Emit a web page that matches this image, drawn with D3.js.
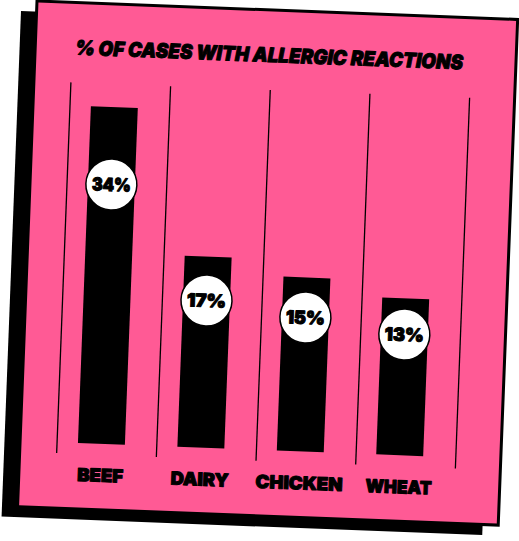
<!DOCTYPE html>
<html><head><meta charset="utf-8">
<script src="https://cdn.jsdelivr.net/npm/d3@7"></script>
<style>html,body{margin:0;padding:0;background:#fff;overflow:hidden}</style>
</head><body>
<svg id="c" width="519" height="541"></svg>
<script>
const categories = ["BEEF", "DAIRY", "CHICKEN", "WHEAT"];
const values = [34, 17, 15, 13];
const valueLabels = ["34%", "17%", "15%", "13%"];
const title = "% OF CASES WITH ALLERGIC REACTIONS";

const cardW = 481, cardH = 506;
const svg = d3.select("#c");
const g = svg.append("g").attr("transform", "translate(37,1) rotate(2.2)");

// shadow + card
g.append("rect").attr("x", -15.6).attr("y", 10.6).attr("width", cardW).attr("height", cardH).attr("fill", "#000");
g.append("rect").attr("width", cardW).attr("height", cardH).attr("fill", "#FF5A95")
  .attr("stroke", "#000").attr("stroke-width", 3);

const FONT = "Inter, 'Noto Sans', 'DejaVu Sans', sans-serif";

// title
g.append("text").attr("x", 40).attr("y", 52).text(title)
  .attr("font-family", FONT).attr("font-weight", 900).attr("font-style", "italic")
  .attr("font-size", 20).attr("fill", "#000")
  .attr("stroke", "#000").attr("stroke-width", 1).attr("stroke-linejoin", "round")
  .attr("textLength", 388).attr("lengthAdjust", "spacingAndGlyphs");

const x = d3.scaleBand().domain(categories).range([37, 436]);
const xBar = d3.scaleBand().domain(categories).range([37, 436])
  .paddingInner(0.528).paddingOuter(0.269).align(0.39);
const y = d3.scaleLinear().domain([-5.3, 34]).range([440, 103]);

// gridlines at band boundaries
const bounds = categories.map(c => x(c)).concat([x.range()[1]]);
g.selectAll("line.grid").data(bounds).join("line").attr("class", "grid")
  .attr("x1", d => d).attr("x2", d => d).attr("y1", 80).attr("y2", 451)
  .attr("stroke", "#000").attr("stroke-width", 1.3);

const data = categories.map((c, i) => ({c, v: values[i], l: valueLabels[i]}));

g.selectAll("rect.bar").data(data).join("rect").attr("class", "bar")
  .attr("x", d => xBar(d.c)).attr("width", xBar.bandwidth())
  .attr("y", d => y(d.v)).attr("height", d => y.range()[0] - y(d.v))
  .attr("fill", "#000");

const cy = d => y(d.v) + 0.23 * (y.range()[0] - y(d.v));
const cx = d => xBar(d.c) + xBar.bandwidth() / 2;

g.selectAll("circle.lab").data(data).join("circle").attr("class", "lab")
  .attr("cx", cx).attr("cy", cy).attr("r", 25.5)
  .attr("fill", "#fff").attr("stroke", "#000").attr("stroke-width", 1.5);

g.selectAll("text.val").data(data).join("text").attr("class", "val")
  .attr("x", cx).attr("y", d => cy(d) + 6.5).attr("text-anchor", "middle")
  .attr("font-family", FONT).attr("font-weight", 900).attr("font-size", 18)
  .attr("stroke", "#000").attr("stroke-width", 1.1).attr("stroke-linejoin", "round")
  .attr("textLength", 39).attr("lengthAdjust", "spacingAndGlyphs")
  .attr("fill", "#000").text(d => d.l);

const catW = {BEEF: 46, DAIRY: 58, CHICKEN: 87, WHEAT: 66};
g.selectAll("text.cat").data(data).join("text").attr("class", "cat")
  .attr("x", cx).attr("y", 478).attr("text-anchor", "middle")
  .attr("font-family", FONT).attr("font-weight", 900).attr("font-size", 18)
  .attr("stroke", "#000").attr("stroke-width", 1.1).attr("stroke-linejoin", "round")
  .attr("textLength", d => catW[d.c]).attr("lengthAdjust", "spacingAndGlyphs")
  .attr("fill", "#000").text(d => d.c);
</script>
</body></html>
